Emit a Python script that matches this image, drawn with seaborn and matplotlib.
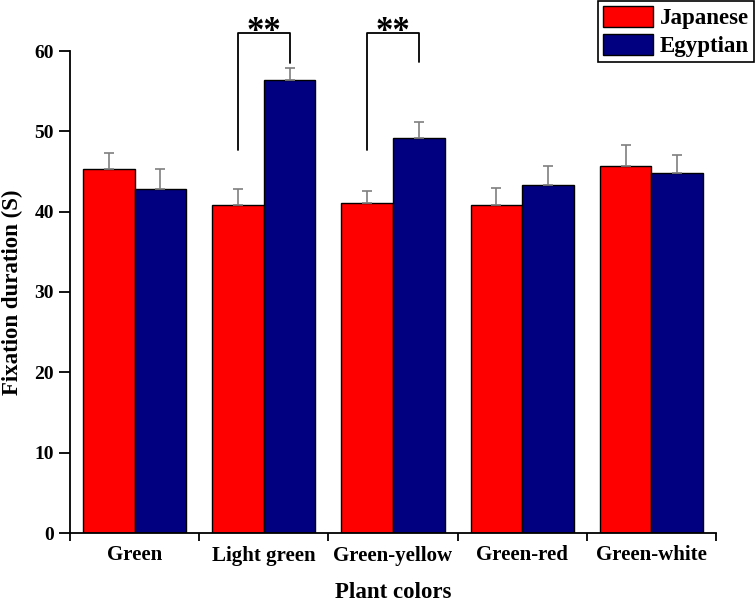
import pandas as pd
import matplotlib.pyplot as plt
import seaborn as sns
from matplotlib.patches import Patch
from matplotlib.ticker import FixedLocator

# Data
colors_cat = ['Green', 'Light green', 'Green-yellow', 'Green-red', 'Green-white']
japanese = [45.3, 40.8, 41.1, 40.8, 45.7]
japanese_err = [2.0, 2.0, 1.5, 2.2, 2.6]
egyptian = [42.8, 56.4, 49.2, 43.3, 44.8]
egyptian_err = [2.5, 1.5, 2.0, 2.4, 2.3]
groups = ['Japanese', 'Egyptian']
palette = {'Japanese': '#FF0000', 'Egyptian': '#000080'}
# significance brackets: (category index, left height, right height, top)
brackets = [(1, 47.7, 58.5, 62.2), (2, 47.7, 58.6, 62.2)]


def build_frame():
    rows = []
    for c, j, e in zip(colors_cat, japanese, egyptian):
        rows.append({'color': c, 'group': 'Japanese', 'value': j})
        rows.append({'color': c, 'group': 'Egyptian', 'value': e})
    return pd.DataFrame(rows)


def main():
    sns.set_theme(style='ticks')
    plt.rcParams['font.family'] = ['Liberation Serif', 'DejaVu Serif']
    plt.rcParams['font.weight'] = 'bold'
    for k in ['text.color', 'axes.labelcolor', 'xtick.color', 'ytick.color']:
        plt.rcParams[k] = 'black'

    df = build_frame()
    fig = plt.figure(figsize=(7.55, 6.05), dpi=100)
    ax = fig.add_axes([70 / 755, 72 / 605, 646 / 755, 482 / 605])

    sns.barplot(data=df, x='color', y='value', hue='group', order=colors_cat,
                hue_order=groups, palette=palette, saturation=1, width=0.8, gap=0,
                edgecolor='black', linewidth=1, errorbar=None, legend=False, ax=ax)

    # upward-only error bars
    n = len(colors_cat)
    patches = ax.patches[:2 * n]
    errs = japanese_err + egyptian_err
    vals = japanese + egyptian
    centers = []
    for p, v, e in zip(patches, vals, errs):
        xc = p.get_x() + p.get_width() / 2
        centers.append(xc)
        ax.errorbar(xc, v, yerr=[[0], [e]], fmt='none', ecolor='#7f7f7f',
                    elinewidth=1.2, capsize=3.8, capthick=1.2, zorder=1)

    # significance brackets
    for idx, lh, rh, top in brackets:
        xl = centers[idx]
        xr = centers[n + idx]
        ax.plot([xl, xl, xr, xr], [lh, top, top, rh], color='black', lw=1.3,
                clip_on=False)
        ax.text((xl + xr) / 2, top - 0.9, '**', ha='center', va='baseline',
                fontsize=25, fontweight='bold', clip_on=False)

    ax.set_ylim(0, 60)
    ax.set_xlim(-0.5, n - 0.5)
    ax.set_yticks(range(0, 61, 10))
    ax.tick_params(axis='y', direction='out', length=8, width=1.3, labelsize=14)
    ax.tick_params(axis='x', which='major', length=0, labelsize=15, pad=9)
    ax.xaxis.set_minor_locator(FixedLocator([i - 0.5 for i in range(n + 1)]))
    ax.tick_params(axis='x', which='minor', direction='out', length=6, width=1.3)
    for lab in ax.get_xticklabels() + ax.get_yticklabels():
        lab.set_fontweight('bold')

    sns.despine(ax=ax)
    for s in ['left', 'bottom']:
        ax.spines[s].set_linewidth(1.3)
        ax.spines[s].set_color('black')

    ax.set_xlabel('Plant colors', fontsize=16.5, fontweight='bold', labelpad=12)
    ax.set_ylabel('Fixation duration (S)', fontsize=16.5, fontweight='bold', labelpad=8)

    handles = [Patch(facecolor=palette[g], edgecolor='black', label=g) for g in groups]
    leg = fig.legend(handles=handles, loc='upper right', bbox_to_anchor=(1.0, 1.0),
                     fancybox=False, framealpha=1, edgecolor='black',
                     prop={'family': 'Liberation Serif', 'weight': 'bold', 'size': 16.5},
                     handlelength=2.2, handleheight=1.05, borderpad=0.2,
                     labelspacing=0.2, handletextpad=0.3, borderaxespad=0.05)
    leg.get_frame().set_linewidth(1.2)

    fig.savefig('out.png', dpi=100)


if __name__ == '__main__':
    main()
